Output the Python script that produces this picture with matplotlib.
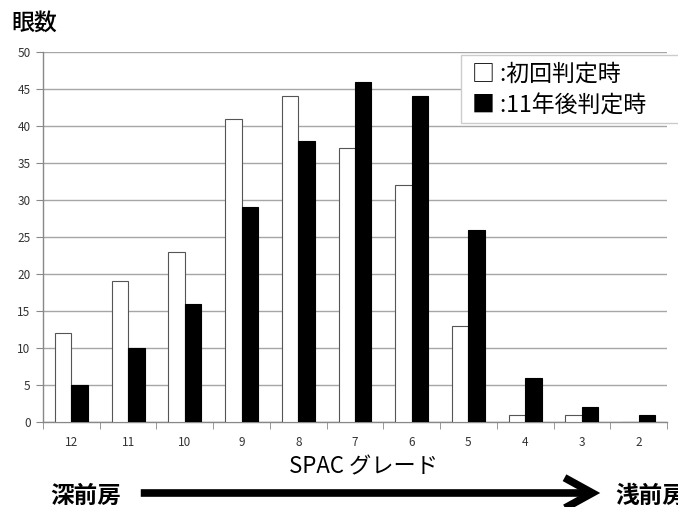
import matplotlib
matplotlib.use("Agg")
import matplotlib.pyplot as plt
import numpy as np
from matplotlib.patches import FancyArrowPatch, Rectangle

plt.rcParams['font.family'] = ['Noto Sans CJK JP', 'DejaVu Sans']

grades = ['12', '11', '10', '9', '8', '7', '6', '5', '4', '3', '2']
initial = [12, 19, 23, 41, 44, 37, 32, 13, 1, 1, 0]
after11 = [5, 10, 16, 29, 38, 46, 44, 26, 6, 2, 1]
legend_labels = ['□ :初回判定時', '■ :11年後判定時']
y_label = '眼数'
x_label = 'SPAC グレード'
left_text = '深前房'
right_text = '浅前房'

W, H = 678, 507
fig = plt.figure(figsize=(W / 100, H / 100), dpi=100)
ax = fig.add_axes([43 / W, 1 - 422 / H, (667 - 43) / W, (422 - 52) / H])

x = np.arange(len(grades))
bw = 0.29
ax.bar(x - bw / 2, initial, bw, color='white', edgecolor='#555555', linewidth=0.8, zorder=3)
ax.bar(x + bw / 2, after11, bw, color='black', edgecolor='black', linewidth=0.8, zorder=3)

ax.set_xlim(-0.5, len(grades) - 0.5)
ax.set_ylim(0, 50)
ax.set_yticks(np.arange(0, 51, 5))
ax.yaxis.grid(True, color='#a6a6a6', linewidth=1.0, zorder=0)
ax.set_axisbelow(True)

ax.set_xticks(x)
ax.set_xticklabels(grades, fontsize=8.5, color='#333333')
ax.set_xticks(np.arange(-0.5, len(grades), 1), minor=True)
ax.tick_params(axis='x', which='major', length=0, pad=10)
ax.tick_params(axis='x', which='minor', length=5, color='#888888', direction='out')
ax.tick_params(axis='y', length=5, color='#888888', labelsize=8.5, labelcolor='#333333', pad=4)

for s in ['top', 'right']:
    ax.spines[s].set_visible(False)
for s in ['left', 'bottom']:
    ax.spines[s].set_color('#888888')
    ax.spines[s].set_linewidth(1.0)

# title
fig.text(11 / W, 1 - 23 / H, y_label, fontsize=16.5, fontweight='medium', va='center', ha='left')

# legend box
fig.patches.append(Rectangle((461 / W, 1 - 123 / H), (700 - 461) / W, (123 - 55) / H,
                             transform=fig.transFigure, facecolor='white',
                             edgecolor='#cccccc', linewidth=1.0, zorder=5))
fig.text(472 / W, 1 - 74 / H, legend_labels[0], fontsize=16.5, va='center', ha='left', zorder=6)
fig.text(472 / W, 1 - 106 / H, legend_labels[1], fontsize=16.5, va='center', ha='left', zorder=6)

# x label
fig.text(363 / W, 1 - 467 / H, x_label, fontsize=16, va='center', ha='center')

# bottom arrow
fig.text(50 / W, 1 - 496 / H, left_text, fontsize=17, fontweight='bold', va='center', ha='left')
fig.text(615 / W, 1 - 496 / H, right_text, fontsize=17, fontweight='bold', va='center', ha='left')
arrow = FancyArrowPatch((138 / W, 1 - 493 / H), (603 / W, 1 - 493 / H),
                        transform=fig.transFigure,
                        arrowstyle='->,head_length=1.0,head_width=0.55',
                        color='black', linewidth=5.5, mutation_scale=20,
                        joinstyle='miter', capstyle='butt')
fig.patches.append(arrow)

fig.savefig('out.png', dpi=100)
